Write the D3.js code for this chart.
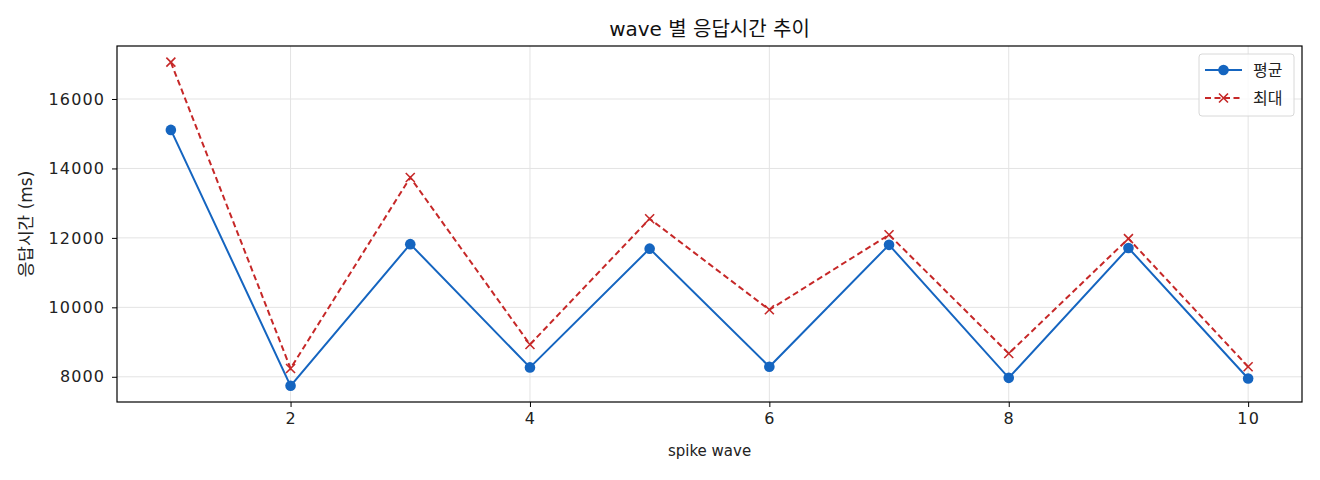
<!DOCTYPE html>
<head>
  <meta charset="utf-8" />
  <script src="https://cdn.jsdelivr.net/npm/d3@7"></script>
  <style>
    body { margin: 0; background: #fff; }
    svg { font-family: "DejaVu Sans", "Noto Sans CJK KR", sans-serif; }
  </style>
</head>
<body>
  <svg width="1320" height="480"></svg>
  <script>
    // wave number and response times (ms)
    const waves = [1, 2, 3, 4, 5, 6, 7, 8, 9, 10];
    const avgTimes = [15110, 7740, 11820, 8270, 11690, 8290, 11800, 7970, 11710, 7950];
    const maxTimes = [17060, 8240, 13740, 8930, 12550, 9930, 12090, 8670, 11980, 8290];
    const xTicks = [2, 4, 6, 8, 10];
    const yTicks = [8000, 10000, 12000, 14000, 16000];
    const seriesNames = ["평균", "최대"];

    const margin = { top: 46, right: 18, bottom: 78, left: 117 };
    const width = 1320 - margin.left - margin.right;
    const height = 480 - margin.top - margin.bottom;
    const blue = "#1565c0", red = "#c62828";

    const svg = d3.select("svg");
    const g = svg.append("g").attr("transform", `translate(${margin.left},${margin.top})`);

    // matplotlib-like 5% padding
    const xPad = (d3.max(waves) - d3.min(waves)) * 0.05;
    const x = d3.scaleLinear().domain([d3.min(waves) - xPad, d3.max(waves) + xPad]).range([0, width]);
    const allY = avgTimes.concat(maxTimes);
    const yPad = (d3.max(allY) - d3.min(allY)) * 0.05;
    const y = d3.scaleLinear().domain([d3.min(allY) - yPad, d3.max(allY) + yPad]).range([height, 0]);

    // grid
    g.append("g").selectAll("line").data(xTicks).enter().append("line")
      .attr("x1", d => x(d)).attr("x2", d => x(d)).attr("y1", 0).attr("y2", height)
      .attr("stroke", "#e3e3e3").attr("stroke-width", 1);
    g.append("g").selectAll("line").data(yTicks).enter().append("line")
      .attr("y1", d => y(d)).attr("y2", d => y(d)).attr("x1", 0).attr("x2", width)
      .attr("stroke", "#e3e3e3").attr("stroke-width", 1);

    const xAxis = d3.axisBottom(x).tickValues(xTicks).tickSize(5).tickPadding(6);
    const yAxis = d3.axisLeft(y).tickValues(yTicks).tickSize(5).tickPadding(7).tickFormat(d3.format("d"));
    const xg = g.append("g").attr("transform", `translate(0,${height})`).call(xAxis);
    const yg = g.append("g").call(yAxis);
    [xg, yg].forEach(a => {
      a.select(".domain").remove();
      a.selectAll("text").attr("font-size", 16).attr("fill", "#222")
        .attr("font-family", "'DejaVu Sans', sans-serif")
        .attr("letter-spacing", 1.1);
      a.selectAll("line").attr("stroke", "#000");
    });

    // frame
    g.append("rect").attr("width", width).attr("height", height)
      .attr("fill", "none").attr("stroke", "#000").attr("stroke-width", 1.2);

    const line = d3.line().x((d, i) => x(waves[i])).y(d => y(d));

    // average series
    g.append("path").datum(avgTimes).attr("d", line)
      .attr("fill", "none").attr("stroke", blue).attr("stroke-width", 2);
    g.append("g").selectAll("circle").data(avgTimes).enter().append("circle")
      .attr("cx", (d, i) => x(waves[i])).attr("cy", d => y(d)).attr("r", 5.3).attr("fill", blue);

    // max series
    g.append("path").datum(maxTimes).attr("d", line)
      .attr("fill", "none").attr("stroke", red).attr("stroke-width", 2).attr("stroke-dasharray", "6,3.5");
    const cross = (sel, s) => sel.append("path")
      .attr("d", `M${-s},${-s}L${s},${s}M${-s},${s}L${s},${-s}`)
      .attr("stroke", red).attr("stroke-width", 1.6).attr("fill", "none");
    maxTimes.forEach((d, i) => {
      cross(g.append("g").attr("transform", `translate(${x(waves[i])},${y(d)})`), 4.5);
    });

    // title & labels
    svg.append("text").attr("x", margin.left + width / 2).attr("y", 36)
      .attr("text-anchor", "middle").attr("font-size", 20).attr("fill", "#111")
      .text("wave 별 응답시간 추이");
    svg.append("text").attr("x", margin.left + width / 2).attr("y", 456)
      .attr("text-anchor", "middle").attr("font-size", 15).attr("fill", "#222")
      .text("spike wave");
    svg.append("text").attr("transform", `translate(32,${margin.top + height / 2}) rotate(-90)`)
      .attr("text-anchor", "middle").attr("font-size", 17).attr("fill", "#222")
      .text("응답시간 (ms)");

    // legend
    const lg = svg.append("g").attr("transform", "translate(1199,54)");
    lg.append("rect").attr("width", 95).attr("height", 62).attr("rx", 3)
      .attr("fill", "#fff").attr("fill-opacity", 0.8).attr("stroke", "#d8d8d8");
    const rows = [
      { name: seriesNames[0], color: blue, dash: null, marker: "circle" },
      { name: seriesNames[1], color: red, dash: "6,3.5", marker: "x" }
    ];
    rows.forEach((r, i) => {
      const ry = 16 + i * 28;
      lg.append("line").attr("x1", 6).attr("x2", 43).attr("y1", ry).attr("y2", ry)
        .attr("stroke", r.color).attr("stroke-width", 2).attr("stroke-dasharray", r.dash);
      if (r.marker === "circle") {
        lg.append("circle").attr("cx", 24.5).attr("cy", ry).attr("r", 5.3).attr("fill", r.color);
      } else {
        cross(lg.append("g").attr("transform", `translate(24.5,${ry})`), 4.5);
      }
      lg.append("text").attr("x", 54).attr("y", ry + 6).attr("font-size", 16).attr("fill", "#222").text(r.name);
    });
  </script>
</body>
